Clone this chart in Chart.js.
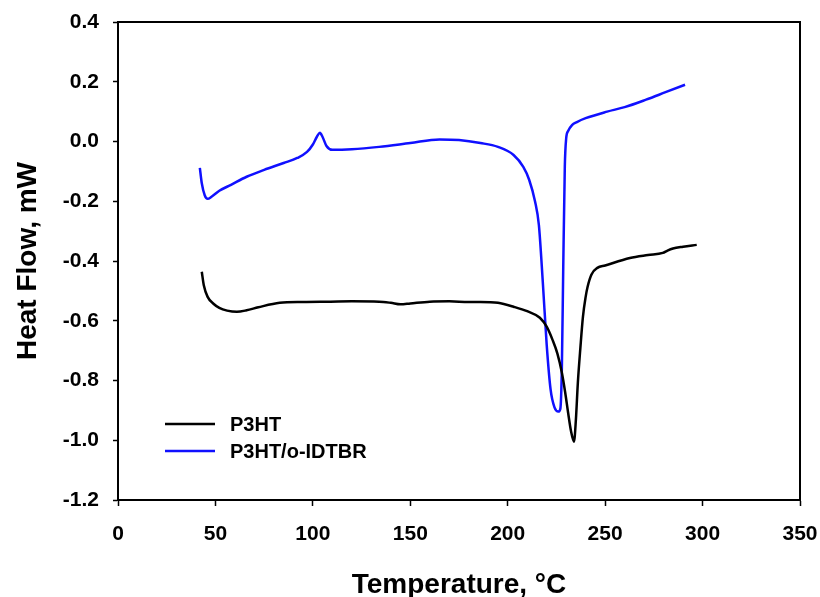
<!DOCTYPE html>
<html lang="en">
<head>
<meta charset="utf-8">
<title>DSC</title>
<script src="https://cdn.jsdelivr.net/npm/chart.js@4.4.0/dist/chart.umd.min.js"></script>
<style>
  html, body { margin: 0; padding: 0; background: #fff; }
  #wrap { width: 820px; height: 597px; }
</style>
</head>
<body>
<div id="wrap"><canvas id="dsc" width="820" height="597"></canvas></div>
<script>
// P3HT trace (temperature in C, heat flow in mW)
var p3htTemp = [43, 44, 46, 49, 52, 56, 61, 66, 72, 83, 95, 109, 120, 134, 140, 145, 150, 160, 170, 180,
  186, 195, 203, 210, 216.5, 220, 223, 225.5, 227.8, 229.5, 231, 232.5, 234, 235, 236, 237.3, 238.6,
  240, 241, 243, 246, 250, 262.7, 272, 279.6, 282, 284.8, 290, 297];
var p3htFlow = [-0.436, -0.48, -0.52, -0.543, -0.557, -0.566, -0.57, -0.565, -0.555, -0.54, -0.537, -0.536,
  -0.535, -0.536, -0.54, -0.545, -0.542, -0.536, -0.535, -0.537, -0.537, -0.54, -0.553, -0.568, -0.59,
  -0.62, -0.664, -0.71, -0.774, -0.84, -0.908, -0.97, -1.005, -0.93, -0.807, -0.69, -0.587, -0.52,
  -0.486, -0.445, -0.423, -0.415, -0.39, -0.38, -0.373, -0.365, -0.358, -0.352, -0.346];

// P3HT/o-IDTBR blend trace
var blendTemp = [42, 43, 44.5, 46, 48, 52, 58, 66, 75, 85, 92, 97, 100, 102, 103.6, 105, 107, 110, 120,
  134, 150, 165, 175, 186, 195, 203, 208, 211, 214, 216, 218, 220, 222, 224, 226, 227, 227.8, 228.5,
  229.3, 230, 231, 233, 235.5, 240, 251, 260, 271, 281, 291];
var blendFlow = [-0.088, -0.14, -0.18, -0.192, -0.185, -0.165, -0.145, -0.118, -0.095, -0.072, -0.055,
  -0.035, -0.01, 0.015, 0.029, 0.015, -0.015, -0.028, -0.026, -0.018, -0.005, 0.007, 0.005, -0.005,
  -0.018, -0.045, -0.085, -0.128, -0.2, -0.28, -0.47, -0.68, -0.83, -0.89, -0.904, -0.895, -0.754,
  -0.42, -0.085, 0.01, 0.035, 0.055, 0.065, 0.078, 0.1, 0.115, 0.14, 0.165, 0.19];

var seriesNames = ['P3HT', 'P3HT/o-IDTBR'];
var seriesColors = ['#000000', '#1010ff'];

function pairs(xs, ys) {
  return xs.map(function (x, i) { return { x: x, y: ys[i] }; });
}

var FONT = '"Liberation Sans", Arial, sans-serif';

// box around the plot + legend in the lower left corner
var extras = {
  id: 'extras',
  afterDraw: function (chart) {
    var ctx = chart.ctx, a = chart.chartArea;
    ctx.save();
    ctx.strokeStyle = '#000';
    ctx.lineWidth = 2;
    ctx.beginPath();
    ctx.moveTo(a.left, a.top);
    ctx.lineTo(a.right, a.top);
    ctx.lineTo(a.right, a.bottom);
    ctx.stroke();

    ctx.font = 'bold 20px ' + FONT;
    ctx.textBaseline = 'middle';
    ctx.fillStyle = '#000';
    var ys = [424, 451];
    chart.data.datasets.forEach(function (ds, i) {
      ctx.strokeStyle = ds.borderColor;
      ctx.lineWidth = 2.5;
      ctx.beginPath();
      ctx.moveTo(165, ys[i]);
      ctx.lineTo(215, ys[i]);
      ctx.stroke();
      ctx.fillText(ds.label, 230, ys[i] + 1);
    });
    ctx.restore();
  }
};

new Chart(document.getElementById('dsc'), {
  type: 'scatter',
  data: {
    datasets: [
      { label: seriesNames[0], data: pairs(p3htTemp, p3htFlow), borderColor: seriesColors[0],
        showLine: true, pointRadius: 0, borderWidth: 2.5, cubicInterpolationMode: 'monotone' },
      { label: seriesNames[1], data: pairs(blendTemp, blendFlow), borderColor: seriesColors[1],
        showLine: true, pointRadius: 0, borderWidth: 2.5, cubicInterpolationMode: 'monotone' }
    ]
  },
  options: {
    responsive: false,
    animation: false,
    layout: { padding: { top: 22, right: 20, left: 0, bottom: 0 } },
    plugins: { legend: { display: false }, tooltip: { enabled: false } },
    scales: {
      x: {
        type: 'linear', min: 0, max: 350,
        afterFit: function (s) { s.height = 97; s.paddingLeft = 0; s.paddingRight = 0; },
        ticks: { stepSize: 50, color: '#000', font: { family: FONT, size: 21, weight: 'bold' }, padding: 16 },
        grid: { drawOnChartArea: false, color: '#000', tickLength: 6, tickWidth: 1.5 },
        border: { color: '#000', width: 2 },
        title: { display: true, text: 'Temperature, °C', color: '#000',
          font: { family: FONT, size: 28, weight: 'bold', lineHeight: 0.85 }, padding: 0 }
      },
      y: {
        min: -1.2, max: 0.4,
        afterFit: function (s) { s.width = 118; s.paddingTop = 0; s.paddingBottom = 0; },
        ticks: { stepSize: 0.2, color: '#000', font: { family: FONT, size: 21, weight: 'bold' }, padding: 14,
          callback: function (v) { return v.toFixed(1); } },
        grid: { drawOnChartArea: false, color: '#000', tickLength: 5, tickWidth: 1.5 },
        border: { color: '#000', width: 2 },
        title: { display: true, text: 'Heat Flow, mW', color: '#000',
          font: { family: FONT, size: 28, weight: 'bold' }, padding: { top: 11, bottom: 0 } }
      }
    }
  },
  plugins: [extras]
});
</script>
</body>
</html>
